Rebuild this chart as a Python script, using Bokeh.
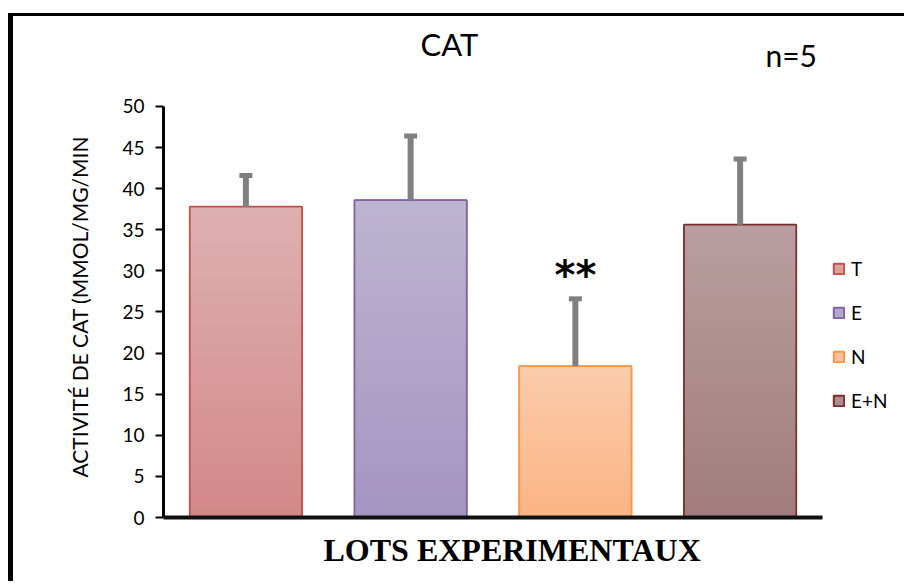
from bokeh.plotting import figure
from bokeh.models import (FactorRange, FixedTicker, ColumnDataSource,
                          Label, Legend, LegendItem, Title)
from bokeh.core.properties import value
from bokeh.embed import file_html
from bokeh.resources import INLINE

# ---- data ----
groups = ["T", "E", "N", "E+N"]
means = [37.8, 38.6, 18.4, 35.6]
errors = [3.8, 7.8, 8.2, 8.0]
signif = ["", "", "**", ""]
y_ticks = [0, 5, 10, 15, 20, 25, 30, 35, 40, 45, 50]
title_text = "CAT"
n_text = "n=5"
y_label = "ACTIVITÉ DE CAT  (MMOL/MG/MIN"
x_label = "LOTS EXPERIMENTAUX"

top_colors = ["#DEB0B0", "#BDB4D1", "#FBCCAB", "#BA9E9F"]
bottom_colors = ["#D38888", "#A595C1", "#FBB485", "#A07D7C"]
border_colors = ["#C0504D", "#8064A2", "#F79646", "#7A2E2C"]
legend_fill = ["#DAA0A0", "#B3A8CC", "#FCC09C", "#AD8E8E"]

BAR_W = 0.68
SANS = "Lato"
ERR_COLOR = "#808080"


def hex2rgb(h):
    h = h.lstrip("#")
    return tuple(int(h[i:i + 2], 16) for i in (0, 2, 4))


def mix(c0, c1, t):
    a, b = hex2rgb(c0), hex2rgb(c1)
    return "#%02x%02x%02x" % tuple(round(a[k] + (b[k] - a[k]) * t) for k in range(3))


# frame extends above the 50 tick so that the title texts sit inside it
p = figure(x_range=FactorRange(*groups), y_range=(0, 60.46),
           frame_width=659, frame_height=497,
           min_border_left=150, min_border_right=80, min_border_top=4, min_border_bottom=64,
           output_backend="svg", toolbar_location=None)
p.styles = {"border-left": "5px solid black", "border-top": "3px solid black",
            "margin-left": "8px", "margin-top": "13px"}
p.x_range.range_padding = 0
p.outline_line_color = None
p.xgrid.grid_line_color = None
p.ygrid.grid_line_color = None
p.background_fill_color = "white"
p.border_fill_color = "white"

# ---- bars: base bar (for legend), gradient strips, outline ----
base = p.vbar(x=groups, top=means, width=BAR_W, fill_color=legend_fill,
              line_color=border_colors, line_width=2)

NSTRIP = 40
sx, sb, st, sc = [], [], [], []
for g, m, c_top, c_bot in zip(groups, means, top_colors, bottom_colors):
    step = m / NSTRIP
    for j in range(NSTRIP):
        sx.append(g)
        sb.append(j * step)
        st.append(min(m, (j + 1.6) * step))
        sc.append(mix(c_bot, c_top, (j + 0.5) / NSTRIP))
p.vbar(x=sx, bottom=sb, top=st, width=BAR_W, fill_color=sc, line_color=None)

p.vbar(x=groups, top=means, width=BAR_W, fill_color=None,
       line_color=border_colors, line_width=1.5)

# ---- error bars (glyphs) ----
src = ColumnDataSource(dict(x=groups, lower=means,
                            upper=[m + e for m, e in zip(means, errors)], sig=signif))
p.segment(x0="x", y0="lower", x1="x", y1="upper", source=src,
          line_color=ERR_COLOR, line_width=6)
p.rect(x="x", y="upper", width=13, height=5, width_units="screen", height_units="screen",
       source=src, fill_color=ERR_COLOR, line_color=None)

p.text(x="x", y="upper", text="sig", source=src, text_align="center",
       text_baseline="bottom", y_offset=-1, text_font=value("DejaVu Sans"),
       text_font_style="bold", text_font_size="40px", text_color="black")

# ---- axes ----
p.yaxis.ticker = FixedTicker(ticks=y_ticks)
p.yaxis.bounds = (0, 50)
p.yaxis.axis_line_width = 3
p.yaxis.axis_line_color = "black"
p.yaxis.major_tick_line_width = 2
p.yaxis.major_tick_line_color = "black"
p.yaxis.major_tick_out = 8
p.yaxis.major_tick_in = 0
p.yaxis.minor_tick_line_color = None
p.yaxis.major_label_text_font = SANS
p.yaxis.major_label_text_font_size = "19px"
p.yaxis.major_label_text_color = "black"
p.yaxis.major_label_standoff = 11

p.xaxis.axis_line_width = 4
p.xaxis.axis_line_color = "#111111"
p.xaxis.major_tick_line_color = None
p.xaxis.minor_tick_line_color = None
p.xaxis.major_label_text_color = None
p.xaxis.major_label_text_font_size = "1px"

# y-axis title (left panel) and x-axis title (below panel)
p.add_layout(Title(text=y_label, align="left", offset=40, standoff=56,
                   text_font=SANS, text_font_size="21px", text_font_style="normal",
                   text_color="black"), "left")
p.add_layout(Title(text=x_label, align="left", offset=160, standoff=12,
                   text_font="Liberation Serif", text_font_size="32px", text_font_style="bold",
                   text_color="black"), "below")

# ---- texts in the top part of the frame ----
p.add_layout(Label(x=1.736, y=57.6, text=title_text, text_align="center", text_baseline="middle",
                   text_font=SANS, text_font_size="31px", text_color="black"))
p.add_layout(Label(x=3.81, y=56.3, text=n_text, text_align="center", text_baseline="middle",
                   text_font=SANS, text_font_size="30px", text_color="black"))

# ---- legend (right panel) ----
items = [LegendItem(label=g, renderers=[base], index=i) for i, g in enumerate(groups)]
leg = Legend(items=items, location=(10, 105), glyph_width=13, glyph_height=13,
             label_text_font=SANS, label_text_font_size="19px", label_text_color="black",
             label_standoff=6, spacing=21, padding=0, margin=0, border_line_color=None,
             background_fill_alpha=0)
p.add_layout(leg, "right")

open("out.html", "w").write(file_html(p, INLINE))
